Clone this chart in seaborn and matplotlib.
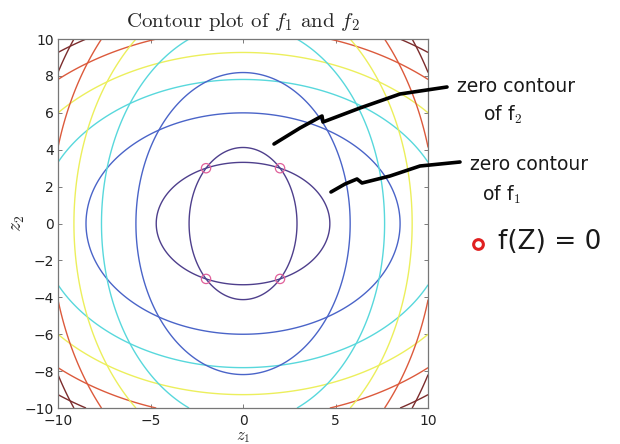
import numpy as np
import matplotlib
matplotlib.use("Agg")
import matplotlib.pyplot as plt
from matplotlib.lines import Line2D
import seaborn as sns

f1_coef = [1.0, 2.0, 22.0]
f2_coef = [2.0, 1.0, 17.0]
levels = [0, 50, 100, 150, 200, 250]
# muted jet-like colours, one per level
level_colors = ['#4e3f8c', '#4a64c8', '#58d8dc', '#ecef5c', '#dc5a3c', '#7c2c2c']

# points where f1 = f2 = 0
root_z1 = [-2, 2, -2, 2]
root_z2 = [3, 3, -3, -3]

x_ticks = [-10, -5, 0, 5, 10]
y_ticks = [-10, -8, -6, -4, -2, 0, 2, 4, 6, 8, 10]

sns.set_theme(style="white")
plt.rcParams['font.family'] = ['DejaVu Sans']
plt.rcParams['mathtext.fontset'] = 'cm'

z = np.linspace(-10, 10, 501)
Z1, Z2 = np.meshgrid(z, z)
F1 = f1_coef[0]*Z1**2 + f1_coef[1]*Z2**2 - f1_coef[2]
F2 = f2_coef[0]*Z1**2 + f2_coef[1]*Z2**2 - f2_coef[2]

fig = plt.figure(figsize=(6.2, 4.44), dpi=100)
ax = fig.add_axes([0.0935, 0.081, 0.597, 0.831])

ax.contour(Z1, Z2, F1, levels=levels, colors=level_colors, linewidths=1.0)
ax.contour(Z1, Z2, F2, levels=levels, colors=level_colors, linewidths=1.0)

sns.scatterplot(x=root_z1, y=root_z2, ax=ax, marker='o', s=45, facecolor='none',
                edgecolor='#e0609a', linewidth=0.9, zorder=5)

ax.set_xlim(-10, 10)
ax.set_ylim(-10, 10)
ax.set_xticks(x_ticks)
ax.set_yticks(y_ticks)
ax.set_xticklabels(['\u221210', '\u22125', '0', '5', '10'])
ax.set_yticklabels([('\u2212' + str(-t)) if t < 0 else str(t) for t in y_ticks])
ax.tick_params(direction='in', length=3, width=0.6, color='#666666',
               labelsize=10, labelcolor='#222222', top=True, right=True,
               bottom=True, left=True, pad=3)
ax.tick_params(axis='x', pad=4.5)
for sp in ax.spines.values():
    sp.set_color('#777777')
    sp.set_linewidth(0.9)

ax.set_title('Contour plot of $f_1$ and $f_2$', fontsize=15,
             family='cmr10', pad=9)
ax.set_xlabel('$z_1$', fontsize=12, labelpad=-1)
ax.set_ylabel('$z_2$', fontsize=14, labelpad=-2)

# hand-drawn pointers (figure pixel coords -> fraction)
W, H = 620.0, 444.0
def pix(pts):
    return [p[0]/W for p in pts], [1 - p[1]/H for p in pts]

for pts in ([(274, 144), (300, 128), (322, 116), (323, 122), (360, 108), (400, 94), (447, 87)],
            [(331, 192), (345, 184), (357, 179), (362, 183), (390, 176), (420, 166), (460, 162)]):
    xs, ys = pix(pts)
    fig.add_artist(Line2D(xs, ys, transform=fig.transFigure, color='black',
                          lw=2.6, solid_capstyle='round', solid_joinstyle='round'))

hand = dict(fontsize=13.5, color='#1a1a1a', family='DejaVu Sans',
            transform=fig.transFigure, va='center')
fig.text(457/W, 1 - 86/H, 'zero contour', **hand)
fig.text(483/W, 1 - 115/H, 'of f$_2$', **hand)
fig.text(470/W, 1 - 165/H, 'zero contour', **hand)
fig.text(482/W, 1 - 195/H, 'of f$_1$', **hand)
fig.add_artist(Line2D([478/W], [1 - 244/H], transform=fig.transFigure, marker='o',
                      markersize=7, markerfacecolor='none', markeredgecolor='#e02020',
                      markeredgewidth=2.2, linestyle='none'))
fig.text(498/W, 1 - 242/H, 'f(Z) = 0', fontsize=19, color='#1a1a1a',
         family='DejaVu Sans', transform=fig.transFigure, va='center')

fig.savefig('out.png', dpi=100)
